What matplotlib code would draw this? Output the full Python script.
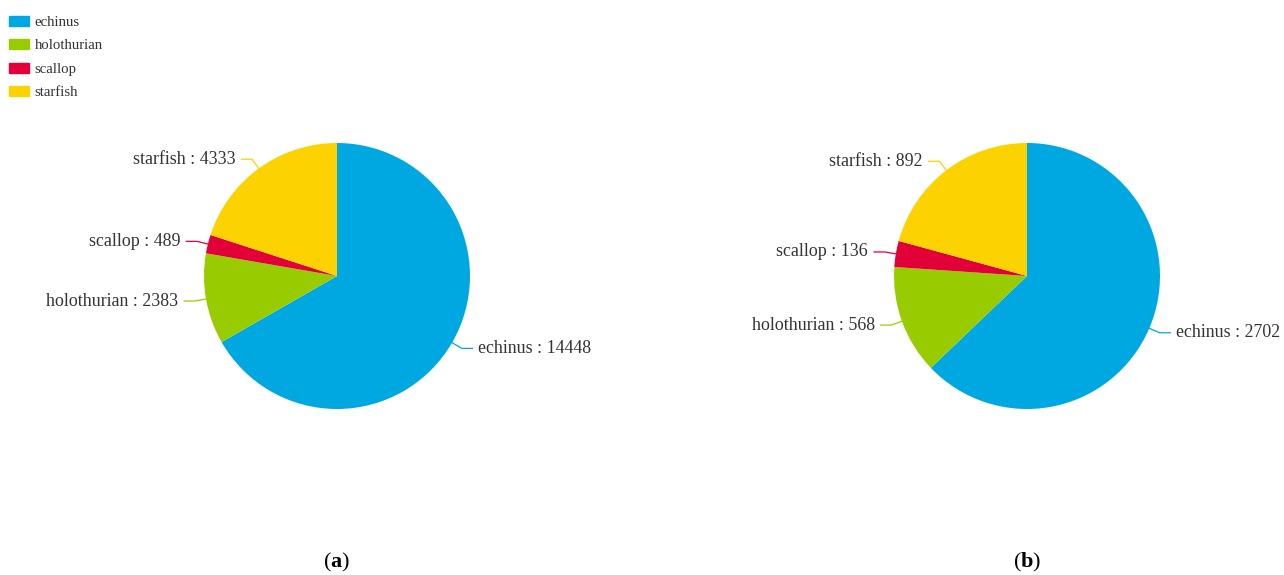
import numpy as np
import matplotlib
matplotlib.use('Agg')
import matplotlib.pyplot as plt
from matplotlib.patches import Patch

# species counts for the two sets
species = ['echinus', 'holothurian', 'scallop', 'starfish']
counts_a = [14448, 2383, 489, 4333]
counts_b = [2702, 568, 136, 892]
colors = ['#00a8e1', '#99cc00', '#e30039', '#fcd300']

W, H = 1284, 575
fig = plt.figure(figsize=(W / 100, H / 100), dpi=100)
plt.rcParams['font.family'] = ['Liberation Serif', 'DejaVu Serif']
plt.rcParams['mathtext.fontset'] = 'custom'
plt.rcParams['mathtext.rm'] = 'Liberation Serif'
plt.rcParams['mathtext.bf'] = 'Liberation Serif:bold'

txt_color = '#333333'
R = 133  # pie radius in px


def draw_pie(cx, cy, values):
    ax = fig.add_axes([(cx - R) / W, (H - cy - R) / H, 2 * R / W, 2 * R / H])
    wedges, _ = ax.pie(values, colors=colors, startangle=90, counterclock=False,
                       radius=1, wedgeprops=dict(linewidth=0))
    ax.set_xlim(-1, 1)
    ax.set_ylim(-1, 1)
    ax.set_aspect('equal')
    ax.axis('off')

    # leader lines + labels
    for w, name, v, c in zip(wedges, species, values, colors):
        ang = np.deg2rad((w.theta1 + w.theta2) / 2)
        x0, y0 = np.cos(ang), np.sin(ang)
        x1, y1 = 1.085 * x0, 1.085 * y0
        side = 1 if x0 >= 0 else -1
        x2 = x1 + side * 0.08
        ax.plot([x0, x1, x2], [y0, y1, y1], color=c, lw=0.9, clip_on=False)
        ax.text(x2 + side * 0.045, y1, f'{name} : {v}', ha='left' if side > 0 else 'right',
                va='center', fontsize=12.9, color=txt_color, clip_on=False)
    return ax


draw_pie(337, 276, counts_a)
draw_pie(1027, 276, counts_b)

handles = [Patch(facecolor=c, edgecolor=c, linewidth=1, joinstyle='round') for c in colors]
fig.legend(handles, species, loc='upper left', bbox_to_anchor=(9 / W, 1 - 16 / H),
           frameon=False, fontsize=10.6, labelcolor=txt_color, borderpad=0, borderaxespad=0,
           handlelength=1.35, handleheight=0.65, handletextpad=0.4, labelspacing=0.7)

fig.text(337 / W, 1 - 562 / H, r'($\mathbf{a}$)', ha='center', va='center', fontsize=16, color='black')
fig.text(1027 / W, 1 - 562 / H, r'($\mathbf{b}$)', ha='center', va='center', fontsize=16, color='black')

fig.savefig('out.png', dpi=100, facecolor='white')
